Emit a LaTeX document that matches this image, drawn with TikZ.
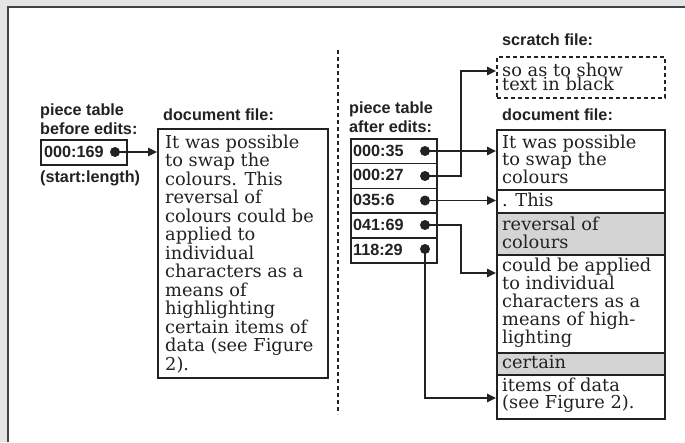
\documentclass[tikz,border=0pt]{standalone}
\usepackage{fontspec}
\setmainfont{DejaVu Serif}
\newfontfamily\labfont{Liberation Sans}
\usetikzlibrary{arrows.meta}
\definecolor{bggray}{HTML}{E4E5E7}
\definecolor{ink}{HTML}{222222}
\definecolor{hlgray}{HTML}{D4D4D4}
\newcommand{\topstr}{\vrule height 0.7\baselineskip width 0pt depth 0pt\relax}
\newcommand{\bodyfont}[1]{\fontsize{17.8}{#1}\selectfont\lineskiplimit=-50pt\relax}
\tikzset{
  lbl/.style={font=\labfont\bfseries\fontsize{16.2}{19}\selectfont, inner sep=0, anchor=base west, text=ink},
  box/.style={draw=ink, line width=1.6pt, inner sep=0, anchor=north west},
  dotn/.style={circle, fill=ink, minimum size=10pt, inner sep=0},
  arr/.style={draw=ink, line width=1.5pt, -{Triangle[length=9pt,width=8.5pt]}},
  body/.style={font=\bodyfont{18.5}, inner sep=0, anchor=north west, align=left, text=ink},
}
\begin{document}
\begin{tikzpicture}[x=1pt,y=-1pt]
\useasboundingbox (0,0) rectangle (685,442);
\fill[bggray] (0,0) rectangle (685,442);
\fill[white] (8,7) rectangle (685,442);
\draw[ink!85, line width=1.6pt] (8,442) -- (8,7) -- (685,7);

% left part
\node[lbl] (ptb1) at (40,115) {piece table};
\node[lbl] (ptb2) at (40,134.3) {before edits:};
\node[box, minimum width=86, minimum height=25] (t0) at (40,139) {};
\node[lbl] (t0l) at (44,157.5) {000:169};
\node[dotn] (d0) at (115,152) {};
\node[lbl] (sl) at (40,182) {(start:length)};
\node[lbl] (df1) at (163,120) {document file:};
\node[box, minimum width=170, minimum height=249] (doc1) at (157,128) {};
\node[body] (doc1t) at (165,134.75) {\topstr It was possible\\to swap the\\colours. This\\reversal of\\colours could be\\applied to\\individual\\characters as a\\means of\\highlighting\\certain items of\\data (see Figure\\2).};
\draw[arr] (d0.center) -- (d0 -| doc1.west);

\draw[ink, line width=1.3pt, dash pattern=on 4pt off 3pt] (338,50) -- (338,414);

% right part
\node[lbl] (pta1) at (349,113.3) {piece table};
\node[lbl] (pta2) at (349,132) {after edits:};
\foreach \i/\lab in {1/000:35,2/000:27,3/035:6,4/041:69,5/118:29}{
  \pgfmathsetmacro{\ytop}{138+(\i-1)*24.8}
  \node[box, minimum width=86, minimum height=24.8] (r\i) at (350,\ytop) {};
  \node[lbl] (rl\i) at (353,\ytop+18) {\lab};
}
\node[dotn] (d1) at (425,151) {};
\node[dotn] (d2) at (425,176) {};
\node[dotn] (d3) at (425,200.5) {};
\node[dotn] (d4) at (425,225) {};
\node[dotn] (d5) at (425,249) {};

\node[lbl] (sf) at (502,45) {scratch file:};
\node[box, dash pattern=on 4pt off 3pt, minimum width=168, minimum height=41] (scr) at (496,56) {};
\node[body, font=\bodyfont{14.5}] (scrt) at (502,62.6) {\topstr so as to show\\text in black};

\node[lbl] (df2) at (502,120) {document file:};
\node[box, minimum width=168, minimum height=60] (s1) at (496,129) {};
\node[box, minimum width=168, minimum height=23] (s2) at (496,189) {};
\node[box, fill=hlgray, minimum width=168, minimum height=42] (s3) at (496,212) {};
\node[box, minimum width=168, minimum height=98] (s4) at (496,254) {};
\node[box, fill=hlgray, minimum width=168, minimum height=22] (s5) at (496,352) {};
\node[box, minimum width=168, minimum height=44] (s6) at (496,374) {};

\node[body, font=\bodyfont{17.2}] (s1t) at (502,135) {\topstr It was possible\\to swap the\\colours};
\node[body] (s2t) at (502,192.5) {\topstr . This};
\node[body, font=\bodyfont{17.6}] (s3t) at (502,216.7) {\topstr reversal of\\colours};
\node[body, font=\bodyfont{17.9}] (s4t) at (502,258) {\topstr could be applied\\to individual\\characters as a\\means of high-\\lighting};
\node[body] (s5t) at (502,355) {\topstr certain};
\node[body, font=\bodyfont{17.5}] (s6t) at (502,377.3) {\topstr items of data\\(see Figure 2).};

\coordinate (k1) at (461,71);
\coordinate (k2) at (461,273);
\coordinate (k3) at (425,398);
\draw[arr] (d1.center) -- (d1 -| s1.west);
\draw[arr] (d2.center) -| (k1) -- (k1 -| scr.west);
\draw[arr] (d3.center) -- (d3 -| s2.west);
\draw[arr] (d4.center) -| (k2) -- (k2 -| s4.west);
\draw[arr] (d5.center) -- (k3) -- (k3 -| s6.west);
\end{tikzpicture}
\end{document}
